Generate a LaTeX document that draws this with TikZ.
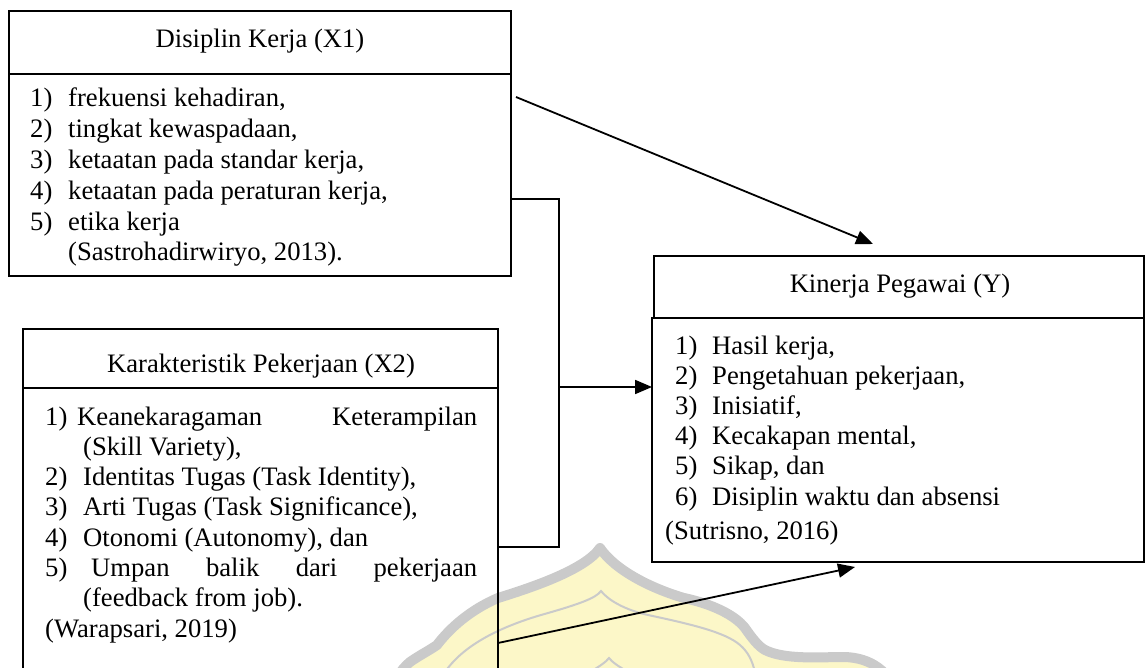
\documentclass[tikz,border=0pt]{standalone}
\usepackage{fontspec}
\setmainfont{Liberation Serif}
\usetikzlibrary{arrows.meta}
\definecolor{wmgray}{HTML}{CACACA}
\definecolor{wmyellow}{HTML}{FCF7C8}
\newcommand{\itm}[2]{\makebox[38pt][l]{#1}#2}
\begin{document}
\begin{tikzpicture}[x=1pt,y=-1pt,
  boxline/.style={draw=black, line width=2.5pt},
  hbox/.style={boxline, rectangle, inner sep=0pt, outer sep=0pt, anchor=north west},
  txt/.style={inner sep=0pt, font=\fontsize{26.65}{30.65}\selectfont},
  listtxt/.style={txt, anchor=base west},
  conn/.style={line width=1.3pt},
  arr/.style={line width=1.8pt, -{Triangle[length=17pt,width=14pt]}},
  wm/.style={draw=wmgray, line width=10pt, fill=wmyellow, line join=round},
  wminner/.style={draw=wmgray, line width=2pt}]
\useasboundingbox (0,0) rectangle (1146,668);
\clip (0,0) rectangle (1146,668);
% watermark
\path[wm] (385,700) .. controls (392,685) and (400,670) .. (410,662)
  .. controls (420,655) and (430,650) .. (437,645)
  .. controls (450,628) and (470,610) .. (498,598)
  .. controls (530,588) and (585,570) .. (600,548)
  .. controls (615,570) and (650,588) .. (684,598)
  .. controls (712,604) and (735,615) .. (745,628)
  .. controls (752,638) and (758,646) .. (765,650)
  .. controls (785,660) and (820,657) .. (845,657)
  .. controls (870,658) and (890,670) .. (900,700) -- cycle;
\path[wminner] (445,672) .. controls (460,650) and (490,630) .. (541,615)
  .. controls (580,604) and (596,598) .. (601,591)
  .. controls (608,600) and (625,610) .. (648,615)
  .. controls (690,624) and (725,632) .. (740,645)
  .. controls (748,652) and (752,660) .. (755,672);
\path[wminner] (590,672) .. controls (600,666) and (606,662) .. (609,658)
  .. controls (612,662) and (618,666) .. (628,672);
% boxes
\node[hbox, minimum width=502pt, minimum height=63pt] (x1h) at (9,11) {};
\node[hbox, minimum width=502pt, minimum height=202pt] (x1b) at (9,74) {};
\node[hbox, minimum width=475pt, minimum height=59pt] (x2h) at (23,329) {};
\node[hbox, minimum width=475pt, minimum height=330pt] (x2b) at (23,388) {};
\node[hbox, minimum width=490pt, minimum height=62pt] (yh) at (654,256) {};
\node[hbox, minimum width=492pt, minimum height=244pt] (yb) at (652,318) {};
% titles
\node[txt, anchor=base] (x1t) at (260,48) {Disiplin Kerja (X1)};
\node[txt, anchor=base] (x2t) at (261,372) {Karakteristik Pekerjaan (X2)};
\node[txt, anchor=base] (yt) at (900,293) {Kinerja Pegawai (Y)};
% lists
\node[listtxt] (x1l) at (30,107) {\begin{minipage}[t]{470pt}\fontsize{26.65}{30.8}\selectfont\noindent
\itm{1)}{frekuensi kehadiran,}\\
\itm{2)}{tingkat kewaspadaan,}\\
\itm{3)}{ketaatan pada standar kerja,}\\
\itm{4)}{ketaatan pada peraturan kerja,}\\
\itm{5)}{etika kerja}\\
\hspace*{38pt}(Sastrohadirwiryo, 2013).
\end{minipage}};
\node[listtxt] (x2l) at (45,425) {\begin{minipage}[t]{432pt}\fontsize{26.65}{30.3}\selectfont\noindent
\makebox[32pt][l]{1)}Keanekaragaman\hfill Keterampilan\\
\hspace*{38pt}(Skill Variety),\\
\itm{2)}{Identitas Tugas (Task Identity),}\\
\itm{3)}{Arti Tugas (Task Significance),}\\
\itm{4)}{Otonomi (Autonomy), dan}\\
\makebox[46pt][l]{5)}Umpan\hfill balik\hfill dari\hfill pekerjaan\\
\hspace*{38pt}(feedback from job).\\
(Warapsari, 2019)
\end{minipage}};
\node[listtxt] (yl) at (665,355) {\begin{minipage}[t]{470pt}\fontsize{26.65}{30}\selectfont\noindent
\hspace*{10pt}\makebox[37pt][l]{1)}Hasil kerja,\\
\hspace*{10pt}\makebox[37pt][l]{2)}Pengetahuan pekerjaan,\\
\hspace*{10pt}\makebox[37pt][l]{3)}Inisiatif,\\
\hspace*{10pt}\makebox[37pt][l]{4)}Kecakapan mental,\\
\hspace*{10pt}\makebox[37pt][l]{5)}Sikap, dan\\
\hspace*{10pt}\makebox[37pt][l]{6)}Disiplin waktu dan absensi\\[5pt]
(Sutrisno, 2016)
\end{minipage}};
% connectors
\coordinate (bt) at (559,199);
\coordinate (bm) at (559,387);
\coordinate (bb) at (559,547);
\coordinate (a1s) at (516,97);
\coordinate (a1e) at (873,244);
\coordinate (a3s) at (498,643);
\coordinate (a3e) at (855,567);
\draw[conn] (x1b.east |- bt) -- (bt) -- (bb) -- (x2b.east |- bb);
\draw[arr] (bm) -- (yb.west |- bm);
\draw[arr] (a1s) -- (a1e);
\draw[arr] (a3s) -- (a3e);
\end{tikzpicture}
\end{document}
